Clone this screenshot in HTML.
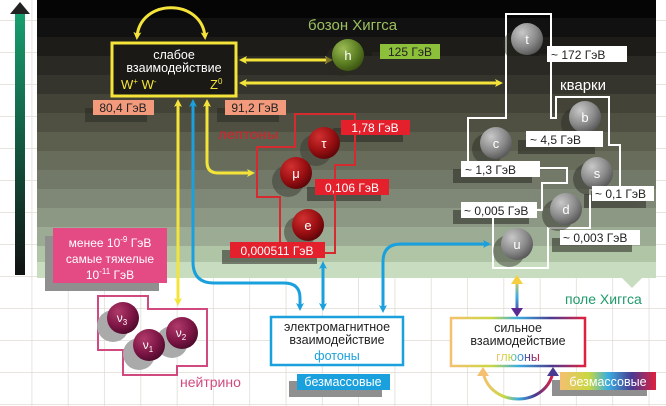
<!DOCTYPE html>
<html><head><meta charset="utf-8"><style>
html,body{margin:0;padding:0;background:#fff}
svg{display:block}
text{font-family:"Liberation Sans",sans-serif}
</style></head><body>
<svg width="666" height="406" viewBox="0 0 666 406" xmlns="http://www.w3.org/2000/svg">
<defs>
<radialGradient id="gr" cx="0.35" cy="0.3" r="0.75"><stop offset="0" stop-color="#c8c8c8"/><stop offset="0.6" stop-color="#8a8a8a"/><stop offset="1" stop-color="#555"/></radialGradient>
<radialGradient id="rd" cx="0.35" cy="0.3" r="0.75"><stop offset="0" stop-color="#d23030"/><stop offset="0.6" stop-color="#9a0f12"/><stop offset="1" stop-color="#5a0508"/></radialGradient>
<radialGradient id="gn" cx="0.35" cy="0.3" r="0.75"><stop offset="0" stop-color="#9cbb55"/><stop offset="0.6" stop-color="#5e8024"/><stop offset="1" stop-color="#3a5210"/></radialGradient>
<radialGradient id="pk" cx="0.35" cy="0.3" r="0.75"><stop offset="0" stop-color="#b03a6a"/><stop offset="0.6" stop-color="#7e1646"/><stop offset="1" stop-color="#4c0a2a"/></radialGradient>
<linearGradient id="la" x1="0" y1="0" x2="0" y2="1"><stop offset="0" stop-color="#17a070"/><stop offset="1" stop-color="#111"/></linearGradient>
<linearGradient id="rb" x1="0" y1="0" x2="1" y2="0"><stop offset="0" stop-color="#f5c070"/><stop offset="0.3" stop-color="#c8d840"/><stop offset="0.5" stop-color="#3aaee0"/><stop offset="0.75" stop-color="#4a3a90"/><stop offset="1" stop-color="#e02040"/></linearGradient>
<linearGradient id="rv" gradientUnits="userSpaceOnUse" x1="0" y1="278" x2="0" y2="316"><stop offset="0" stop-color="#f5d040"/><stop offset="0.5" stop-color="#3aaee0"/><stop offset="1" stop-color="#5a2a90"/></linearGradient>
<pattern id="grid" width="36.3" height="32" patternUnits="userSpaceOnUse" x="-4" y="-11"><path d="M36.3 0V32M0 32H36.3" stroke="#dedbd2" stroke-width="1.5" fill="none"/></pattern>
<marker id="ay" markerWidth="8" markerHeight="8" refX="5" refY="4" orient="auto-start-reverse" markerUnits="userSpaceOnUse"><path d="M0 0L8 4L0 8L2 4Z" fill="#f4e43a"/></marker>
<marker id="ab" markerWidth="8" markerHeight="8" refX="5" refY="4" orient="auto-start-reverse" markerUnits="userSpaceOnUse"><path d="M0 0L8 4L0 8L2 4Z" fill="#1aa0dc"/></marker>
</defs>
<rect width="666" height="406" fill="#fff"/>
<rect width="666" height="406" fill="url(#grid)"/>
<g>
<rect x="37" y="0" width="619" height="18" fill="#050505"/>
<rect x="37" y="18" width="619" height="19" fill="#111"/>
<rect x="37" y="37" width="619" height="19" fill="#1d1c18"/>
<rect x="37" y="56" width="619" height="19" fill="#2a2923"/>
<rect x="37" y="75" width="619" height="19" fill="#36352d"/>
<rect x="37" y="94" width="619" height="19" fill="#434337"/>
<rect x="37" y="113" width="619" height="19" fill="#4f5042"/>
<rect x="37" y="132" width="619" height="19" fill="#5c5e4e"/>
<rect x="37" y="151" width="619" height="19" fill="#686c5b"/>
<rect x="37" y="170" width="619" height="19" fill="#737968"/>
<rect x="37" y="189" width="619" height="19" fill="#7f8876"/>
<rect x="37" y="208" width="619" height="19" fill="#8c9884"/>
<rect x="37" y="227" width="619" height="19" fill="#9cab93"/>
<rect x="37" y="246" width="619" height="16" fill="#b0c4a6"/>
<rect x="37" y="262" width="619" height="16" fill="#c8dcc0"/>
<path d="M622 278L632 288L642 278Z" fill="#c8dcc0"/>
</g>
<rect x="15" y="12" width="10" height="263" fill="url(#la)"/>
<path d="M10 14L20 2L30 14Z" fill="#222"/>

<g fill="#2a2a24" opacity="0.55">
<rect x="85" y="108" width="62" height="14"/><rect x="217" y="108" width="62" height="14"/>
<rect x="372" y="52" width="60" height="14"/><rect x="333" y="128" width="70" height="14"/>
<rect x="307" y="187" width="74" height="14"/><rect x="222" y="250" width="95" height="14"/>
<rect x="539" y="54" width="80" height="14"/><rect x="518" y="140" width="77" height="14"/>
<rect x="453" y="169" width="79" height="14"/><rect x="584" y="194" width="62" height="14"/>
<rect x="453" y="210" width="76" height="14"/><rect x="552" y="238" width="80" height="14"/>
</g>
<rect x="45" y="236" width="114" height="55" fill="#8f8f8f"/>
<rect x="289" y="381" width="93" height="16" fill="#8f8f8f"/>
<rect x="552" y="380" width="95" height="16" fill="#8f8f8f"/>

<g fill="none" stroke-width="3">
<path d="M137 37 C 140 -2, 202 -2, 205 37" stroke="#f4e43a" marker-start="url(#ay)" marker-end="url(#ay)"/>
<path d="M242 60 H330" stroke="#f4e43a" marker-start="url(#ay)" marker-end="url(#ay)"/>
<path d="M242 83 H500" stroke="#f4e43a" marker-start="url(#ay)" marker-end="url(#ay)"/>
<path d="M207 102 V162 Q207 173 218 173 H252" stroke="#f4e43a" marker-start="url(#ay)" marker-end="url(#ay)"/>
<path d="M178 102 V303" stroke="#f4e43a" marker-start="url(#ay)" marker-end="url(#ay)"/>
<path d="M193 102 V262 Q193 283 214 283 H284 Q300 283 300 298 V308" stroke="#1aa0dc" marker-start="url(#ab)" marker-end="url(#ab)"/>
<path d="M323 264 V308" stroke="#1aa0dc" marker-start="url(#ab)" marker-end="url(#ab)"/>
<path d="M383 310 V262 Q383 244 401 244 H488" stroke="#1aa0dc" marker-start="url(#ab)" marker-end="url(#ab)"/>
<path d="M517 282 V310" stroke="url(#rv)"/>
<path d="M483 372 C 490 408, 546 408, 553 372" stroke="url(#rb)"/>
</g>
<path d="M511 284L517 275L523 284Z" fill="#f4d040"/><path d="M511 308L517 317L523 308Z" fill="#5a2a90"/>
<path d="M477 376L483 367L489 376Z" fill="#f5c070"/><path d="M547 376L553 367L559 376Z" fill="#4a3a90"/>

<rect x="112" y="43" width="124" height="53" fill="#1a1915" stroke="#f4e43a" stroke-width="3"/>
<text x="174" y="59" fill="#fff" font-size="12.5" text-anchor="middle">слабое</text>
<text x="174" y="72" fill="#fff" font-size="12.5" text-anchor="middle">взаимодействие</text>
<text x="121" y="89" fill="#f4e43a" font-size="13">W<tspan font-size="8" dy="-5">+</tspan><tspan dy="5"> W</tspan><tspan font-size="8" dy="-5">-</tspan></text>
<text x="210" y="89" fill="#f4e43a" font-size="13">Z<tspan font-size="8" dy="-5">0</tspan></text>
<rect x="93" y="100" width="61" height="15" fill="#f39a7c"/><text x="123" y="112" font-size="12" text-anchor="middle" fill="#222">80,4 ГэВ</text>
<rect x="225" y="100" width="61" height="15" fill="#f39a7c"/><text x="255" y="112" font-size="12" text-anchor="middle" fill="#222">91,2 ГэВ</text>

<text x="308" y="30" fill="#9cc060" font-size="15">бозон Хиггса</text>
<circle cx="342" cy="60" r="16" fill="#2a2a22" opacity="0.6"/>
<circle cx="348" cy="55" r="16" fill="url(#gn)"/><text x="348" y="60" fill="#fff" font-size="13" text-anchor="middle">h</text>
<rect x="380" y="44" width="60" height="15" fill="#8cbf3a"/><text x="410" y="56" font-size="12" text-anchor="middle" fill="#222">125 ГэВ</text>

<text x="218" y="139" fill="#c8282e" font-size="14" font-weight="bold" opacity="0.85">лептоны</text>
<path d="M295 114H355V165H335V253H280V197H257V147H295Z" fill="none" stroke="#d42a30" stroke-width="2"/>
<circle cx="316" cy="150" r="16" fill="#3a3a32" opacity="0.5"/><circle cx="288" cy="181" r="16" fill="#3a3a32" opacity="0.5"/><circle cx="300" cy="232" r="16" fill="#3a3a32" opacity="0.5"/>
<circle cx="324" cy="143" r="16" fill="url(#rd)"/><text x="324" y="148" fill="#fff" font-size="13" text-anchor="middle">τ</text>
<circle cx="296" cy="173" r="16" fill="url(#rd)"/><text x="296" y="178" fill="#fff" font-size="13" text-anchor="middle">μ</text>
<circle cx="308" cy="225" r="16" fill="url(#rd)"/><text x="308" y="230" fill="#fff" font-size="13" text-anchor="middle">e</text>
<rect x="341" y="120" width="69" height="15" fill="#e3202c"/><text x="375" y="132" font-size="12" text-anchor="middle" fill="#fff">1,78 ГэВ</text>
<rect x="315" y="179" width="74" height="16" fill="#e3202c"/><text x="352" y="192" font-size="12" text-anchor="middle" fill="#fff">0,106 ГэВ</text>
<rect x="230" y="242" width="95" height="16" fill="#e3202c"/><text x="277" y="255" font-size="12" text-anchor="middle" fill="#fff">0,000511 ГэВ</text>

<text x="560" y="90" fill="#fff" font-size="15">кварки</text>
<path d="M506 14H551V118H556V97H609V145H620V190H590V228H548V268H493V210H542V183H567V168H468V118H506Z" fill="none" stroke="#fff" stroke-width="2"/>
<g fill="#2a2a24" opacity="0.45">
<circle cx="519" cy="45" r="16"/><circle cx="577" cy="123" r="16"/><circle cx="488" cy="149" r="16"/><circle cx="589" cy="179" r="16"/><circle cx="558" cy="215" r="16"/><circle cx="509" cy="251" r="16"/></g>
<g fill="#fff" font-size="13" text-anchor="middle">
<circle cx="527" cy="39" r="16" fill="url(#gr)"/><text x="527" y="44">t</text>
<circle cx="585" cy="117" r="16" fill="url(#gr)"/><text x="585" y="122">b</text>
<circle cx="496" cy="143" r="16" fill="url(#gr)"/><text x="496" y="148">c</text>
<circle cx="597" cy="173" r="16" fill="url(#gr)"/><text x="597" y="178">s</text>
<circle cx="566" cy="209" r="16" fill="url(#gr)"/><text x="566" y="214">d</text>
<circle cx="517" cy="244" r="16" fill="url(#gr)"/><text x="517" y="249">u</text>
</g>
<g fill="#fff"><rect x="547" y="46" width="80" height="16"/><rect x="526" y="131" width="77" height="16"/><rect x="461" y="161" width="79" height="16"/><rect x="592" y="186" width="62" height="15"/><rect x="461" y="202" width="76" height="16"/><rect x="560" y="230" width="80" height="15"/></g>
<g font-size="12" fill="#222">
<text x="551" y="59">~ 172 ГэВ</text><text x="530" y="144">~ 4,5 ГэВ</text><text x="465" y="174">~ 1,3 ГэВ</text><text x="595" y="198">~ 0,1 ГэВ</text><text x="464" y="215">~ 0,005 ГэВ</text><text x="563" y="242">~ 0,003 ГэВ</text>
</g>
<text x="565" y="304" fill="#1f9a6a" font-size="14">поле Хиггса</text>

<rect x="53" y="228" width="114" height="55" fill="#e44a84"/>
<text x="110" y="247" fill="#fff" font-size="12" text-anchor="middle">менее 10<tspan font-size="8" dy="-5">-9</tspan><tspan dy="5"> ГэВ</tspan></text>
<text x="110" y="263" fill="#fff" font-size="12" text-anchor="middle">самые тяжелые</text>
<text x="110" y="279" fill="#fff" font-size="12" text-anchor="middle">10<tspan font-size="8" dy="-5">-11</tspan><tspan dy="5"> ГэВ</tspan></text>
<path d="M98 296H148V309H207V366H177V375H123V350H98Z" fill="none" stroke="#d04a80" stroke-width="2"/>
<g fill="#aaa"><circle cx="113" cy="326" r="16"/><circle cx="139" cy="354" r="16"/><circle cx="172" cy="342" r="16"/></g>
<g fill="#fff" font-size="12" text-anchor="middle">
<circle cx="123" cy="318" r="16" fill="url(#pk)"/><text x="122" y="322">ν<tspan font-size="8" dy="3">3</tspan></text>
<circle cx="149" cy="345" r="16" fill="url(#pk)"/><text x="148" y="349">ν<tspan font-size="8" dy="3">1</tspan></text>
<circle cx="182" cy="333" r="16" fill="url(#pk)"/><text x="181" y="337">ν<tspan font-size="8" dy="3">2</tspan></text>
</g>
<text x="180" y="387" fill="#d04a80" font-size="14">нейтрино</text>

<rect x="271" y="317" width="132" height="48" fill="#fff" stroke="#1aa0dc" stroke-width="2.5"/>
<text x="337" y="331" font-size="12.5" text-anchor="middle" fill="#222">электромагнитное</text>
<text x="337" y="344" font-size="12.5" text-anchor="middle" fill="#222">взаимодействие</text>
<text x="337" y="360" font-size="12.5" text-anchor="middle" fill="#1aa0dc">фотоны</text>
<rect x="297" y="374" width="93" height="16" fill="#1aa0dc"/><text x="343" y="386" font-size="12.5" text-anchor="middle" fill="#fff">безмассовые</text>

<rect x="451" y="318" width="134" height="48" fill="#fff" stroke="url(#rb)" stroke-width="2.5"/>
<text x="518" y="332" font-size="12.5" text-anchor="middle" fill="#222">сильное</text>
<text x="518" y="345" font-size="12.5" text-anchor="middle" fill="#222">взаимодействие</text>
<text x="518" y="361" font-size="12.5" text-anchor="middle" fill="url(#rb)">глюоны</text>
<rect x="560" y="372" width="96" height="18" fill="url(#rb)"/><text x="608" y="386" font-size="12.5" text-anchor="middle" fill="#fff">безмассовые</text>
</svg>
</body></html>
